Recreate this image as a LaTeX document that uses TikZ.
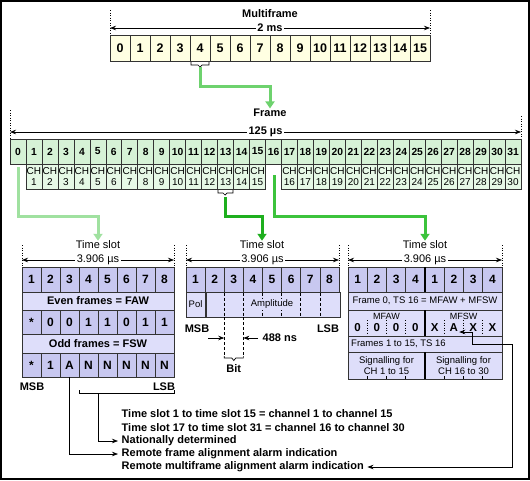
\documentclass[tikz,border=0pt]{standalone}
\usepackage{fontspec}
\setmainfont{Liberation Sans}
\usetikzlibrary{arrows.meta,calc}
\definecolor{mfill}{RGB}{255,255,226}
\definecolor{ffill}{RGB}{214,242,214}
\definecolor{chfill}{RGB}{230,248,230}
\definecolor{thead}{RGB}{200,200,240}
\definecolor{tlight}{RGB}{222,222,250}
\definecolor{gA}{RGB}{110,210,110}
\definecolor{gB}{RGB}{160,225,160}
\definecolor{gC}{RGB}{30,175,30}
\definecolor{gD}{RGB}{60,195,60}
\newcommand\TSdim[4]{%
  \draw[dotv] (#1,245) -- (#1,267);
  \draw[dotv] (#2,245) -- (#2,267);
  \node[ttl] (#3) at (#4,245) {Time slot};
  \draw[dimarr] (#1,260) -- (#2,260) node[midway,fill=white,inner sep=1.5pt,font=\fontsize{11}{13}\selectfont] (#3d) {3.906 µs};
}
\begin{document}
\begin{tikzpicture}[x=1pt,y=-1pt,
  cb/.style={draw=black!80,line width=0.6pt,inner sep=0pt},
  mcell/.style={cb,fill=mfill,minimum width=20pt,minimum height=26pt,font=\bfseries\fontsize{12.5}{14}\selectfont},
  fcell/.style={cb,fill=ffill,minimum width=15.97pt,minimum height=25pt,font=\bfseries\fontsize{10.3}{12}\selectfont},
  chcell/.style={cb,fill=chfill,minimum width=15.97pt,minimum height=25pt,font=\fontsize{10}{11.5}\selectfont,align=center},
  tc/.style={cb,fill=thead,minimum height=25pt,font=\bfseries\fontsize{12}{14}\selectfont},
  trow/.style={cb,fill=tlight,font=\bfseries\fontsize{11}{13}\selectfont},
  small/.style={font=\fontsize{9.5}{11}\selectfont},
  dg/.style={inner sep=1pt,font=\bfseries\fontsize{11.5}{13}\selectfont},
  dotv/.style={line width=0.8pt,dash pattern=on 1pt off 1.5pt},
  dsh/.style={line width=0.6pt,dash pattern=on 3pt off 2pt},
  dimarr/.style={line width=0.7pt,{Stealth[length=6pt,width=4.5pt]}-{Stealth[length=6pt,width=4.5pt]}},
  lbl/.style={font=\bfseries\fontsize{11}{13}\selectfont,inner sep=1.5pt},
  ttl/.style={font=\fontsize{11}{13}\selectfont,inner sep=1pt},
  garr/.style={line width=3pt,-{Triangle[length=7pt,width=9pt]}},
  barr/.style={line width=0.7pt,-{Stealth[length=6pt,width=4.5pt]}},
  brc/.style={line width=0.7pt}]
\useasboundingbox (0,0) rectangle (530,480);
\draw[line width=2pt] (1,1) rectangle (529,479);

% ---------- Multiframe ----------
\node[lbl] (mftitle) at (270,14) {Multiframe};
\draw[dotv] (110,10) -- (110,35);
\draw[dotv] (430,10) -- (430,35);
\draw[dimarr] (110,28) -- (430,28) node[midway,fill=white,lbl] (mfdim) {2 ms};
\foreach \i in {0,...,15} \node[mcell] (m\i) at ({120+20*\i},48) {\i};
\draw[brc] (191,62) -- (191,65) -- (198,65) -- (200,67) -- (202,65) -- (209,65) -- (209,62);
\coordinate (mb) at (200,67);

% ---------- Frame ----------
\node[lbl] (frtitle) at (270,113) {Frame};
\draw[dotv] (10,110) -- (10,139);
\draw[dotv] (521,116) -- (521,139);
\draw[dimarr] (10,132) -- (521,132) node[midway,fill=white,lbl] (frdim) {125 µs};
\foreach \i in {0,...,31} \node[fcell] (f\i) at ({10+15.97*(\i+0.5)},151.5) {\i};
\foreach \i in {1,...,15} \node[chcell] (c\i) at ({10+15.97*(\i+0.5)},176.5) {CH\\\i};
\foreach \i [evaluate=\i as \j using int(\i-1)] in {17,...,31} \node[chcell] (c\i) at ({10+15.97*(\i+0.5)},176.5) {CH\\\j};
\draw[brc] (218,190) -- (218,193) -- (223,193) -- (225,195) -- (227,193) -- (233,193) -- (233,190);
\coordinate (fb13) at (225,197);
\coordinate (fs0) at (18,167);
\coordinate (fs16) at (274,175);

% ---------- Time slot dims ----------
\TSdim{22}{174}{tsA}{98}
\TSdim{186}{339}{tsB}{262}
\TSdim{348}{502}{tsC}{425}

% ---------- green arrows ----------
\draw[garr,gA] (mb) -- ++(0,19) -| ([yshift=-1pt]frtitle.north);
\draw[garr,gB] (fs0) -- ++(0,49) -| ([yshift=-1pt]tsA.north);
\draw[garr,gC] (fb13) -- ++(0,19) -| ([yshift=-1pt]tsB.north);
\draw[garr,gD] (fs16) -- ++(0,41) -| ([yshift=-1pt]tsC.north);

% ---------- Left time slot box ----------
\foreach \i in {1,...,8} \node[tc,minimum width=19pt] (la\i) at ({22+19*(\i-0.5)},279.5) {\i};
\node[trow,minimum width=152pt,minimum height=18pt] (lr2) at (98,301) {Even frames = FAW};
\foreach \v [count=\i] in {*,0,0,1,1,0,1,1} \node[tc,minimum width=19pt,minimum height=24pt] (lb\i) at ({22+19*(\i-0.5)},322) {\v};
\node[trow,minimum width=152pt,minimum height=19pt] (lr4) at (98,343.5) {Odd frames = FSW};
\foreach \v [count=\i] in {*,1,A,N,N,N,N,N} \node[tc,minimum width=19pt,minimum height=24pt] (lc\i) at ({22+19*(\i-0.5)},365) {\v};
\node[lbl] (lmsb) at (32,387) {MSB};
\node[lbl] (llsb) at (164,387) {LSB};
\draw[brc] (79,390) -- (79,393) -- (174,393) -- (174,390);
\coordinate (nb) at (98,393);

% ---------- Middle time slot box ----------
\foreach \i in {1,...,8} \node[tc,minimum width=19.125pt] (ma\i) at ({186+19.125*(\i-0.5)},279.5) {\i};
\node[cb,fill=tlight,minimum width=19.125pt,minimum height=25pt,small] (pol) at (195.56,304.5) {Pol};
\node[cb,fill=tlight,minimum width=133.875pt,minimum height=25pt] (amp) at (272.94,304.5) {};
\foreach \k in {2,...,7} \draw[dsh] ({186+19.125*\k},292.5) -- ({186+19.125*\k},316.5);
\draw[dsh] (224.25,317) -- (224.25,356);
\draw[dsh] (243.375,317) -- (243.375,356);
\node[fill=tlight,inner sep=1pt,small] (ampt) at (272,304.5) {Amplitude};
\node[lbl] (mmsb) at (197,329) {MSB};
\node[lbl] (mlsb) at (328,329) {LSB};
\coordinate (ba1) at (208,338);
\coordinate (ba2) at (224.25,338);
\coordinate (bb1) at (258,338);
\coordinate (bb2) at (243.375,338);
\draw[barr] (ba1) -- (ba2);
\draw[barr] (bb1) -- (bb2);
\node[lbl,anchor=west] (ns) at (261,338) {488 ns};
\draw[brc] (224.25,356) -- (224.25,358) -- (231.8,358) -- (233.8,360.5) -- (235.8,358) -- (243.375,358) -- (243.375,356);
\node[lbl] (bit) at (233.8,369) {Bit};

% ---------- Right time slot box ----------
\foreach \v [count=\i] in {1,2,3,4,1,2,3,4} \node[tc,minimum width=19.25pt] (ra\i) at ({348+19.25*(\i-0.5)},279.5) {\v};
\node[trow,small,minimum width=154pt,minimum height=18pt] (rr2) at (425,301) {Frame 0, TS 16 = MFAW + MFSW};
\node[cb,fill=tlight,minimum width=77pt,minimum height=26pt] (rl3) at (386.5,323) {};
\node[cb,fill=tlight,minimum width=77pt,minimum height=26pt] (rm3) at (463.5,323) {};
\node[inner sep=0pt,font=\fontsize{9}{10}\selectfont] (mfaw) at (386.5,316) {MFAW};
\node[inner sep=0pt,font=\fontsize{9}{10}\selectfont] (mfsw) at (463.5,316) {MFSW};
\foreach \k in {1,2,3} {
  \draw[dotv,line width=0.6pt] ({348+19.25*\k},320) -- ({348+19.25*\k},334);
  \draw[dotv,line width=0.6pt] ({425+19.25*\k},320) -- ({425+19.25*\k},334);
}
\foreach \v [count=\i] in {0,0,0,0} \node[dg,fill=tlight] (rd\i) at ({348+19.25*(\i-0.5)},327.5) {\v};
\foreach \v [count=\i] in {X,A,X,X} \node[dg,fill=tlight] (rx\i) at ({425+19.25*(\i-0.5)},327.5) {\v};
\node[cb,fill=tlight,minimum width=154pt,minimum height=16pt] (rr4) at (425,344) {};
\node[small,anchor=west,inner sep=0pt] (rr4t) at (351,344) {Frames 1 to 15, TS 16};
\node[cb,fill=tlight,minimum width=77pt,minimum height=27pt,small,align=center] (rs1) at (386.5,365.5) {Signalling for\\CH 1 to 15};
\node[cb,fill=tlight,minimum width=77pt,minimum height=27pt,small,align=center] (rs2) at (463.5,365.5) {Signalling for\\CH 16 to 30};
\foreach \k in {1,2,3} {
  \draw[line width=0.6pt] ({348+19.25*\k},376) -- ({348+19.25*\k},379);
  \draw[line width=0.6pt] ({425+19.25*\k},376) -- ({425+19.25*\k},379);
}
\draw[line width=1.6pt] (425,267) -- (425,292);
\draw[line width=1.6pt] (425,310) -- (425,336);
\draw[line width=1.6pt] (425,352) -- (425,379);

% ---------- Legend texts ----------
\node[lbl,anchor=west] (t1) at (120,414) {Time slot 1 to time slot 15 = channel 1 to channel 15};
\node[lbl,anchor=west] (t2) at (120,427.5) {Time slot 17 to time slot 31 = channel 16 to channel 30};
\node[lbl,anchor=west] (t3) at (120,441) {Nationally determined};
\node[lbl,anchor=west] (t4) at (120,454) {Remote frame alignment alarm indication};
\node[lbl,anchor=west] (t5) at (120,467) {Remote multiframe alignment alarm indication};

% ---------- black connectors ----------
\draw[barr,shorten >=2pt] (nb) |- (t3.west);
\draw[barr,shorten >=2pt] (lc3.south) |- (t4.west);
\coordinate (rA) at (512,344);
\coordinate (rB) at (472,332);
\draw[line width=0.7pt,{Stealth[length=6pt,width=4.5pt]}-{Stealth[length=6pt,width=4.5pt]}]
  ([xshift=2pt]t5.east) -| (rA) -| (rB) -- (rB -| rx2.east);
\end{tikzpicture}
\end{document}
